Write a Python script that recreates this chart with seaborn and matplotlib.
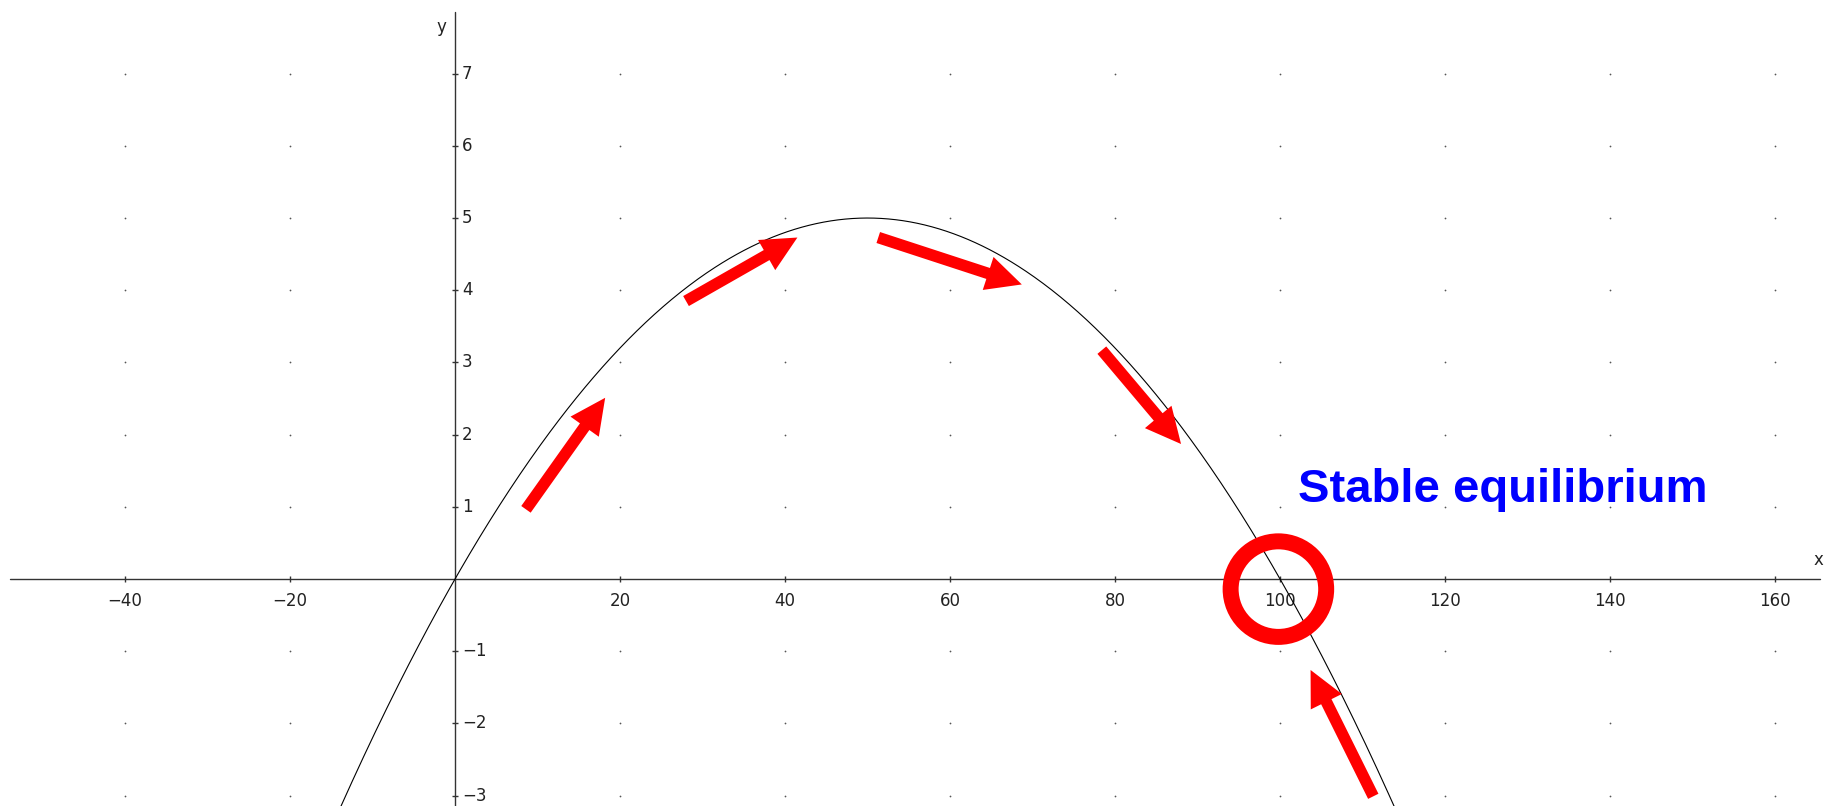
import numpy as np
import pandas as pd
import matplotlib
matplotlib.use("Agg")
import matplotlib.pyplot as plt
from matplotlib.patches import FancyArrowPatch
import seaborn as sns

# Logistic growth rate curve: dN/dt = r * N * (1 - N / K)
growth_rate = 0.2
capacity = 100

# View window
x_view = (-55.15, 166.9)
y_view = (-3.144, 8.02)

# Axis extents and tick positions
x_axis_span = (-53.9, 165.4)
y_axis_span = (-3.2, 7.86)
x_ticks = [-40, -20, 20, 40, 60, 80, 100, 120, 140, 160]
y_ticks = [-3, -2, -1, 1, 2, 3, 4, 5, 6, 7]
x_grid = [-40, -20, 0, 20, 40, 60, 80, 100, 120, 140, 160]
y_grid = [-3, -2, -1, 0, 1, 2, 3, 4, 5, 6, 7]

# Direction arrows along the curve (tail -> head)
arrow_tail_x = [8.6, 28.0, 51.3, 78.4, 111.3]
arrow_tail_y = [0.965, 3.85, 4.73, 3.17, -3.01]
arrow_head_x = [18.2, 41.5, 68.7, 88.0, 103.7]
arrow_head_y = [2.51, 4.73, 4.08, 1.87, -1.26]

# Equilibrium marker and its label
equilibrium_x = [99.8]
equilibrium_y = [-0.14]
label_text = "Stable equilibrium"
label_x = 102.2
label_y = 1.066

sns.set_style("white")
plt.rcParams["font.family"] = ["DejaVu Sans"]

fig = plt.figure(figsize=(18.32, 8.06), dpi=100)
ax = fig.add_axes([0, 0, 1, 1])
ax.set_axis_off()
ax.set_xlim(*x_view)
ax.set_ylim(*y_view)

# Dotted grid
gx, gy = np.meshgrid(x_grid, y_grid)
grid_df = pd.DataFrame({"x": gx.ravel(), "y": gy.ravel()})
grid_df = grid_df[(grid_df.x != 0) & (grid_df.y != 0)]
sns.scatterplot(data=grid_df, x="x", y="y", s=1.6, color="#555555",
                linewidth=0, ax=ax, zorder=1)

# Coordinate axes
ax.plot(x_axis_span, [0, 0], color="#333333", lw=1.0, zorder=2)
ax.plot([0, 0], y_axis_span, color="#333333", lw=1.0, zorder=2)
ax.plot(x_ticks, [0] * len(x_ticks), ls="none", marker="|", ms=4,
        mew=1.0, color="#333333", zorder=2)
ax.plot([0] * len(y_ticks), y_ticks, ls="none", marker="_", ms=4,
        mew=1.0, color="#333333", zorder=2)

tick_style = dict(fontsize=12, color="#222222")
for xv in x_ticks:
    ax.annotate(f"{xv}".replace("-", "\u2212"), (xv, 0), xytext=(0, -9.5),
                textcoords="offset points", ha="center", va="top", **tick_style)
for yv in y_ticks:
    ax.annotate(f"{yv}".replace("-", "\u2212"), (0, yv), xytext=(5, 0),
                textcoords="offset points", ha="left", va="center", **tick_style)
ax.text(-1.6, 7.65, "y", ha="center", va="center", **tick_style)
ax.text(165.3, 0.27, "x", ha="center", va="center", **tick_style)

# Growth-rate curve
n = np.linspace(-20, 120, 800)
curve_df = pd.DataFrame({"N": n, "rate": growth_rate * n * (1 - n / capacity)})
sns.lineplot(data=curve_df, x="N", y="rate", color="black", lw=0.8,
             ax=ax, zorder=3, sort=False)
ax.set_xlim(*x_view)
ax.set_ylim(*y_view)
ax.set_axis_off()

# Direction arrows
for tx, ty, hx, hy in zip(arrow_tail_x, arrow_tail_y, arrow_head_x, arrow_head_y):
    ax.add_patch(FancyArrowPatch(
        (tx, ty), (hx, hy),
        arrowstyle="simple,head_length=25.5,head_width=25,tail_width=8.3",
        mutation_scale=1, color="red", lw=0, shrinkA=0, shrinkB=0, zorder=5))

# Equilibrium ring
sns.scatterplot(x=equilibrium_x, y=equilibrium_y, s=4733, marker="o",
                facecolor="none", edgecolor="red", linewidth=11.5,
                ax=ax, zorder=6)

ax.text(label_x, label_y, label_text, color="#0000ff", fontsize=34,
        fontweight="bold", family=["Liberation Sans", "DejaVu Sans"],
        ha="left", va="baseline", zorder=7)

fig.savefig("out.png", dpi=100)
